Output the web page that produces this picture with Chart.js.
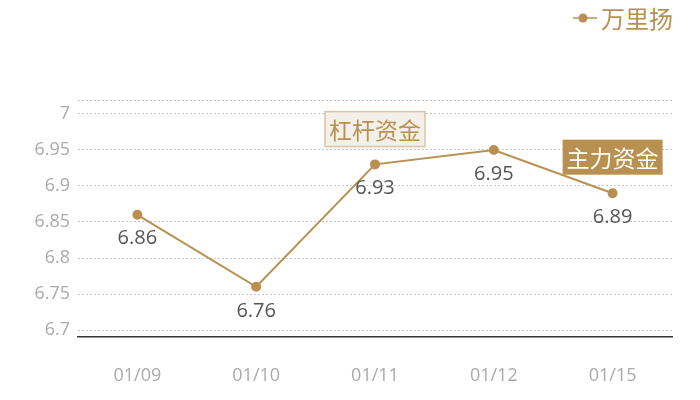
<!DOCTYPE html>
<html>
<head>
<meta charset="utf-8">
<script src="https://cdn.jsdelivr.net/npm/chart.js@4.4.1/dist/chart.umd.min.js"></script>
<style>
	html, body { margin: 0; padding: 0; background: #fff; }
	#wrap { width: 700px; height: 400px; }
</style>
</head>
<body>
<div id="wrap"><canvas id="priceChart"></canvas></div>
<script>
const categories = [ '01/09', '01/10', '01/11', '01/12', '01/15' ];
const seriesName = '万里扬';
const prices = [ 6.86, 6.76, 6.93, 6.95, 6.89 ];
const yTicks = [ 6.7, 6.75, 6.8, 6.85, 6.9, 6.95, 7 ];
const noteTexts = [ '杠杆资金', '主力资金' ];
const noteIndex = [ 2, 4 ];
const noteValues = [ 6.979, 6.94 ];

const gold = '#b8904f',
	fontFamily = '"Open Sans", "Noto Sans CJK SC", sans-serif';

document.addEventListener( 'DOMContentLoaded', function () {
	// Value labels under each point, the two boxed notes, and the legend.
	const extras = {
		id: 'extras',
		afterDatasetsDraw: function ( chart ) {
			const ctx = chart.ctx,
				meta = chart.getDatasetMeta( 0 ),
				xs = chart.scales.x,
				ys = chart.scales.y;

			ctx.save();
			ctx.font = '20px ' + fontFamily;
			ctx.fillStyle = '#555';
			ctx.textAlign = 'center';
			ctx.textBaseline = 'middle';
			meta.data.forEach( function ( pt, i ) {
				ctx.fillText( prices[ i ].toFixed( 2 ), pt.x, pt.y + 24 );
			} );

			ctx.font = '23px "Noto Sans CJK SC", sans-serif';
			noteTexts.forEach( function ( text, i ) {
				const cx = xs.getPixelForValue( noteIndex[ i ] ),
					cy = ys.getPixelForValue( noteValues[ i ] ),
					w = ctx.measureText( text ).width + 8,
					h = 35;
				if ( i === 0 ) {
					ctx.fillStyle = '#f4efe9';
					ctx.fillRect( cx - w / 2, cy - h / 2, w, h );
					ctx.strokeStyle = '#d8c4a4';
					ctx.lineWidth = 1.5;
					ctx.strokeRect( cx - w / 2, cy - h / 2, w, h );
					ctx.fillStyle = gold;
				} else {
					ctx.fillStyle = gold;
					ctx.fillRect( cx - w / 2, cy - h / 2, w, h );
					ctx.fillStyle = '#fff';
				}
				ctx.fillText( text, cx, cy + 1 );
			} );

			// legend
			ctx.strokeStyle = gold;
			ctx.lineWidth = 1.5;
			ctx.beginPath();
			ctx.moveTo( 573, 18 );
			ctx.lineTo( 597, 18 );
			ctx.stroke();
			ctx.fillStyle = gold;
			ctx.beginPath();
			ctx.arc( 583, 18, 4.5, 0, Math.PI * 2 );
			ctx.fill();
			ctx.textAlign = 'left';
			ctx.font = '24px "Noto Sans CJK SC", sans-serif';
			ctx.fillText( seriesName, 601, 19 );
			ctx.restore();
		}
	};

	new Chart( 'priceChart', {
		type: 'line',
		data: {
			labels: categories,
			datasets: [ {
				label: seriesName,
				data: prices,
				borderColor: gold,
				backgroundColor: gold,
				borderWidth: 2,
				pointRadius: 4,
				pointHoverRadius: 4,
				tension: 0
			} ]
		},
		plugins: [ extras ],
		options: {
			responsive: true,
			maintainAspectRatio: false,
			animation: false,
			layout: {
				padding: { top: 100, right: 28, left: 0, bottom: 0 }
			},
			plugins: {
				legend: { display: false },
				tooltip: { enabled: false }
			},
			scales: {
				x: {
					offset: true,
					grid: { display: false },
					border: { display: true, color: '#333', width: 1.5 },
					ticks: {
						color: '#aaa',
						font: { size: 18, family: fontFamily },
						padding: 20
					},
					afterFit: function ( scale ) {
						scale.height = 63;
					}
				},
				y: {
					min: 6.6903,
					max: 7.0194,
					afterBuildTicks: function ( scale ) {
						scale.ticks = yTicks.concat( [ 7.0194 ] ).map( function ( v ) {
							return { value: v };
						} );
					},
					grid: {
						color: '#c8c8c8',
						lineWidth: 1,
						drawTicks: false
					},
					border: { display: false, dash: [ 2, 2 ] },
					ticks: {
						color: '#aaa',
						font: { size: 18, family: fontFamily },
						padding: 8,
						callback: function ( v ) {
							return yTicks.indexOf( v ) >= 0 ? String( v ) : '';
						}
					},
					afterFit: function ( scale ) {
						scale.width = 78;
					}
				}
			}
		}
	} );
} );
</script>
</body>
</html>
